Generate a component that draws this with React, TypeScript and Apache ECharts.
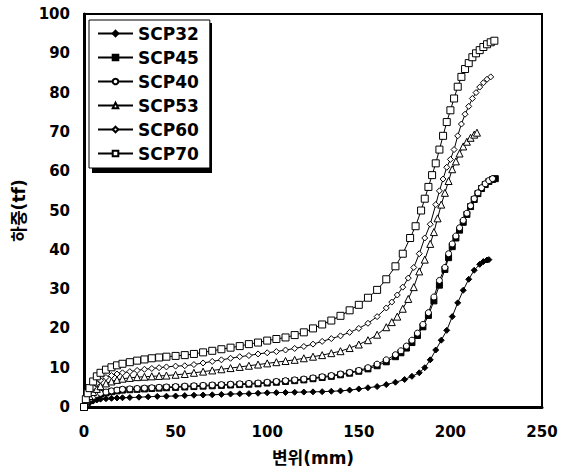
import React, { useEffect, useRef } from "react";
import * as echarts from "echarts";

const seriesNames = ["SCP32", "SCP45", "SCP40", "SCP53", "SCP60", "SCP70"];

const scp32: [number, number][] = [
  [0, 0], [1, 0.4], [2, 0.8], [3, 1.1], [5, 1.5], [7, 1.8], [9, 2], [12, 2.1], [15, 2.2], [18, 2.3],
  [21, 2.35], [25, 2.4], [30, 2.5], [35, 2.6], [40, 2.7], [45, 2.75], [50, 2.8], [55, 2.9], [60, 3],
  [65, 3.05], [70, 3.1], [75, 3.2], [80, 3.3], [85, 3.35], [90, 3.4], [95, 3.5], [100, 3.6], [105, 3.65],
  [110, 3.7], [115, 3.75], [120, 3.8], [125, 3.85], [130, 3.9], [135, 4], [140, 4.1], [145, 4.3],
  [150, 4.6], [155, 4.9], [160, 5.2], [165, 5.7], [170, 6.3], [175, 7], [179, 7.8], [183, 8.7],
  [186, 10], [189, 12], [192, 14.5], [195, 17], [198, 19.5], [201, 23], [204, 26.5], [207, 29.7],
  [210, 32.5], [213, 34.8], [216, 36.3], [218, 37], [220, 37.4], [221, 37.5]
];

const scp45: [number, number][] = [
  [0, 0], [1, 0.6], [2, 1.2], [3, 1.7], [5, 2.4], [7, 2.9], [9, 3.3], [12, 3.6], [15, 3.9], [18, 4.1],
  [21, 4.3], [25, 4.4], [29, 4.5], [33, 4.6], [37, 4.7], [41, 4.8], [45, 4.9], [50, 5], [55, 5.1],
  [60, 5.2], [65, 5.3], [70, 5.4], [75, 5.5], [80, 5.6], [85, 5.7], [90, 5.8], [95, 5.9], [100, 6.1],
  [105, 6.3], [110, 6.5], [115, 6.7], [120, 6.9], [125, 7.2], [130, 7.5], [135, 7.8], [140, 8.2],
  [145, 8.6], [150, 9.1], [155, 9.7], [160, 10.5], [165, 11.5], [170, 12.8], [173, 13.8], [176, 15],
  [179, 16.4], [182, 18.2], [185, 20.4], [188, 23.3], [191, 27], [194, 31], [197, 35], [199, 38],
  [201, 40.8], [203, 43], [205, 45], [207, 47], [209, 49], [211, 51], [213, 52.8], [215, 54.3],
  [217, 55.6], [219, 56.6], [221, 57.4], [223, 57.9], [224.5, 58.1]
];

const scp40: [number, number][] = [
  [0, 0], [1, 0.8], [2, 1.5], [3, 2], [5, 2.7], [7, 3.2], [9, 3.5], [12, 3.8], [15, 4.1], [18, 4.3],
  [21, 4.5], [25, 4.6], [29, 4.7], [33, 4.8], [37, 4.9], [41, 5], [45, 5.1], [50, 5.2], [55, 5.3],
  [60, 5.4], [65, 5.5], [70, 5.6], [75, 5.7], [80, 5.8], [85, 5.9], [90, 6], [95, 6.1], [100, 6.3],
  [105, 6.5], [110, 6.7], [115, 6.9], [120, 7.1], [125, 7.4], [130, 7.7], [135, 8], [140, 8.4],
  [145, 8.8], [150, 9.3], [155, 10], [160, 10.9], [165, 12], [170, 13.3], [173, 14.3], [176, 15.5],
  [179, 17], [182, 18.8], [185, 21], [188, 24], [191, 28], [194, 32.2], [197, 35.5], [199, 39],
  [201, 41.5], [203, 43.5], [205, 45.6], [207, 47.5], [209, 49.3], [211, 51.2], [213, 53],
  [215, 54.5], [217, 55.8], [219, 56.8], [221, 57.6], [223, 58.1]
];

const scp53: [number, number][] = [
  [0, 0], [1, 1], [2, 2], [3, 2.8], [5, 3.8], [7, 4.6], [9, 5.3], [12, 6], [15, 6.5], [18, 6.9],
  [21, 7.2], [25, 7.4], [29, 7.6], [33, 7.7], [37, 7.8], [41, 7.9], [45, 8], [50, 8.2], [55, 8.4],
  [60, 8.7], [65, 9], [70, 9.3], [75, 9.6], [80, 9.9], [85, 10.2], [90, 10.5], [95, 10.8], [100, 11.1],
  [105, 11.4], [110, 11.7], [115, 12], [120, 12.4], [125, 12.8], [130, 13.2], [135, 13.7], [140, 14.2],
  [145, 15], [150, 15.9], [155, 17], [160, 18.4], [165, 20.3], [168, 21.6], [171, 23], [174, 25],
  [177, 27.5], [180, 30.5], [183, 34.5], [186, 37.5], [189, 41.5], [191, 44.5], [193, 48], [195, 51.5],
  [197, 54.5], [199, 57.5], [201, 60.5], [203, 62.5], [205, 64.5], [207, 66.3], [209, 67.5],
  [211, 68.5], [213, 69.3], [214.5, 69.8]
];

const scp60: [number, number][] = [
  [0, 0], [1, 1.5], [2, 2.8], [3, 3.8], [5, 5], [7, 6], [9, 6.8], [12, 7.5], [15, 8], [18, 8.4],
  [21, 8.7], [25, 9], [29, 9.3], [33, 9.6], [37, 9.8], [41, 10], [45, 10.2], [50, 10.4], [55, 10.5],
  [60, 10.8], [65, 11.2], [70, 11.6], [75, 12], [80, 12.4], [85, 12.8], [90, 13.1], [95, 13.5],
  [100, 13.8], [105, 14.1], [110, 14.5], [115, 14.9], [120, 15.4], [125, 16], [130, 16.7], [135, 17.4],
  [140, 18.1], [145, 19], [150, 20], [155, 21.3], [160, 23], [165, 25.2], [168, 26.7], [171, 28.5],
  [174, 30.5], [177, 32.8], [180, 35.5], [183, 39], [186, 43], [189, 46.5], [192, 51.5], [194, 55],
  [196, 58], [198, 61], [200, 63], [202, 65.5], [204, 69], [206, 72], [208, 74.5], [210, 76.5],
  [212, 78.5], [214, 80], [216, 81.4], [218, 82.5], [220, 83.4], [222, 84]
];

const scp70: [number, number][] = [
  [0, 0], [1, 2], [2, 3.5], [3, 4.8], [5, 6.5], [7, 7.8], [9, 8.7], [12, 9.5], [15, 10.1], [18, 10.6],
  [21, 11], [25, 11.4], [29, 11.8], [33, 12.1], [37, 12.4], [41, 12.6], [45, 12.8], [50, 13],
  [55, 13.2], [60, 13.5], [65, 13.9], [70, 14.3], [75, 14.7], [80, 15.1], [85, 15.5], [90, 16],
  [95, 16.4], [100, 16.9], [105, 17.3], [110, 17.7], [115, 18.3], [120, 19], [125, 20], [130, 21],
  [135, 22], [140, 23.2], [145, 24.6], [150, 26], [155, 27.8], [160, 29.8], [165, 32.5], [170, 35.8],
  [174, 39], [178, 43], [181, 46], [184, 50], [186, 53], [188, 56], [190, 59], [192, 62], [194, 65.5],
  [196, 69], [198, 72.5], [200, 75.5], [202, 78.5], [204, 81.5], [206, 84], [208, 86], [210, 87.5],
  [212, 89], [214, 90], [216, 90.8], [218, 91.6], [220, 92.3], [222, 92.8], [224, 93.2]
];

const xTicks = { min: 0, max: 250, interval: 50 };
const yTicks = { min: 0, max: 100, interval: 10 };

const FONT = "'DejaVu Sans', 'Noto Sans CJK KR', sans-serif";

export default function App() {
  const ref = useRef<HTMLDivElement>(null);
  useEffect(() => {
    if (!ref.current) return;
    const chart = echarts.init(ref.current, null, { renderer: "svg" });
    const dataSets = [scp32, scp45, scp40, scp53, scp60, scp70];
    const symbols = ["diamond", "rect", "circle", "triangle", "diamond", "rect"];
    const sizes = [6, 6, 6, 7, 6, 7];
    const filled = [true, true, false, false, false, false];
    chart.setOption({
      animation: false,
      backgroundColor: "#fff",
      grid: {
        left: 84, right: 25, top: 14, bottom: 60,
        show: true, borderColor: "#000", borderWidth: 2, backgroundColor: "transparent",
      },
      graphic: [
        { type: "rect", left: 92, top: 23, shape: { width: 120, height: 150 }, style: { fill: "#000" }, z: 90 },
      ],
      legend: {
        data: seriesNames,
        orient: "vertical",
        left: 89, top: 20,
        backgroundColor: "#fff",
        borderColor: "#000",
        borderWidth: 1,
        padding: [5, 11, 6, 8],
        itemWidth: 35, itemHeight: 7, itemGap: 7,
        z: 100,
        textStyle: { fontFamily: FONT, fontWeight: "bold", fontSize: 17, color: "#000", lineHeight: 17 },
      },
      xAxis: {
        type: "value",
        min: xTicks.min, max: xTicks.max, interval: xTicks.interval,
        name: "변위(mm)", nameLocation: "middle", nameGap: 42,
        nameTextStyle: { fontFamily: FONT, fontWeight: "bold", fontSize: 17, color: "#000" },
        axisLine: { show: true, onZero: false, lineStyle: { color: "#000", width: 3 } },
        axisTick: { show: false },
        splitLine: { show: false },
        axisLabel: { margin: 17, fontFamily: FONT, fontWeight: "bold", fontSize: 15, color: "#000" },
      },
      yAxis: {
        type: "value",
        min: yTicks.min, max: yTicks.max, interval: yTicks.interval,
        name: "하중(tf)", nameLocation: "middle", nameGap: 56,
        nameTextStyle: { fontFamily: FONT, fontWeight: "bold", fontSize: 17, color: "#000" },
        axisLine: { show: true, onZero: false, lineStyle: { color: "#000", width: 3 } },
        axisTick: { show: false },
        splitLine: { show: false },
        axisLabel: { margin: 14, fontFamily: FONT, fontWeight: "bold", fontSize: 15, color: "#000" },
      },
      series: seriesNames.map((name, i) => ({
        name,
        type: "line",
        data: dataSets[i],
        symbol: symbols[i],
        symbolSize: sizes[i],
        showAllSymbol: true,
        lineStyle: { color: "#000", width: 1 },
        itemStyle: {
          color: filled[i] ? "#000" : "#fff",
          borderColor: "#000",
          borderWidth: 1,
        },
        emphasis: { disabled: true },
      })),
    });
    return () => chart.dispose();
  }, []);
  return <div ref={ref} style={{ width: 567, height: 471, position: "absolute", left: 0, top: 0 }} />;
}
